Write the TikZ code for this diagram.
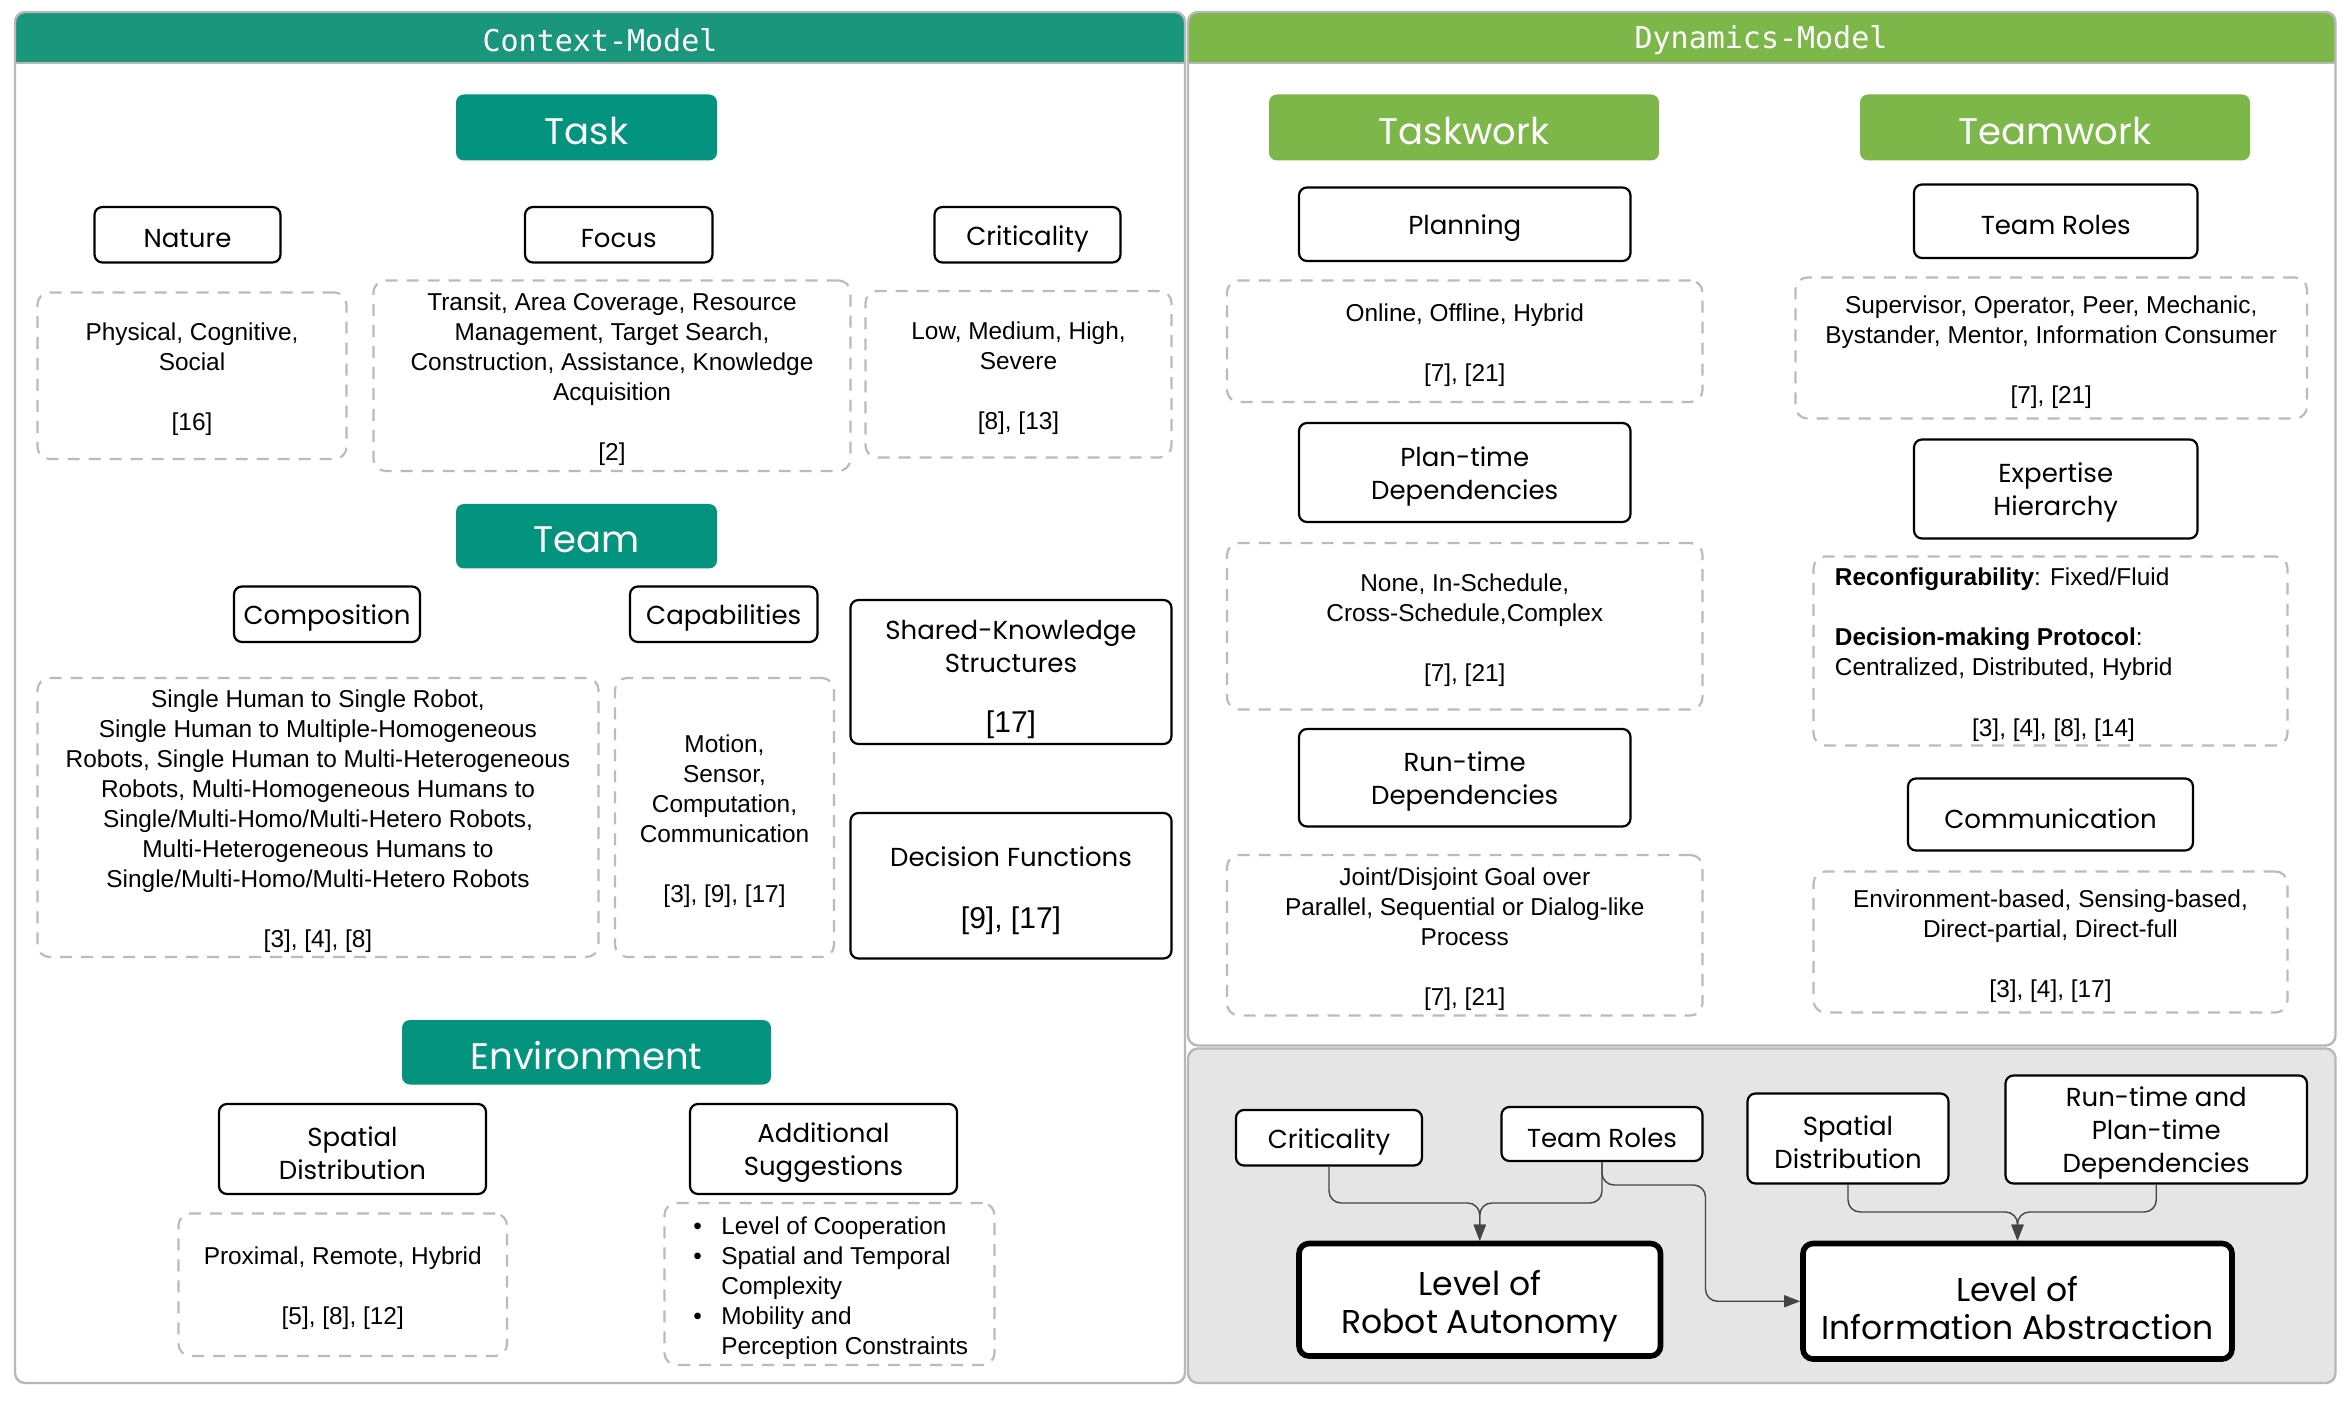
\documentclass[tikz,border=0pt]{standalone}
\usepackage{fontspec}
\setmainfont{Liberation Sans}
\newfontfamily\labfont{Poppins}
\newfontfamily\hdrfont{DejaVu Sans Mono}
\usetikzlibrary{arrows.meta}
\definecolor{cteal}{RGB}{26,150,124}
\definecolor{tealbox}{RGB}{3,147,126}
\definecolor{cgreen}{RGB}{125,182,73}
\definecolor{pgray}{RGB}{184,184,184}
\definecolor{dgray}{RGB}{187,187,187}
\definecolor{panelfill}{RGB}{229,229,229}
\definecolor{conncol}{RGB}{68,68,68}
% box by corners: style, x1, y1, x2, y2, name, text (text set slightly lower, as in the reference)
\newcommand\B[7]{%
  \node[#1, minimum width={(#4-#2)*0.75pt}, minimum height={(#5-#3)*0.75pt}] (#6) at ({(#2+#4)/2},{(#3+#5)/2}) {};%
  \node[#1, draw=none, fill=none] (#6-t) at ({(#2+#4)/2},{(#3+#5)/2+2.5}) {#7};}
\newcommand\BB[7]{%
  \node[#1, minimum width={(#4-#2)*0.75pt}, minimum height={(#5-#3)*0.75pt}] (#6) at ({(#2+#4)/2},{(#3+#5)/2}) {};%
  \node[#1, draw=none, fill=none] (#6-t) at ({(#2+#4)/2},{(#3+#5)/2+4.5}) {#7};}
\tikzset{
  lbl/.style={draw=black, line width=1.1pt, rounded corners=4pt, fill=white, inner sep=0pt,
    align=center, font=\labfont\fontsize{13}{16.5}\selectfont},
  hdrt/.style={fill=tealbox, rounded corners=4pt, inner sep=0pt, text=white,
    font=\labfont\fontsize{18.5}{22}\selectfont},
  hdrg/.style={hdrt, fill=cgreen},
  desc/.style={draw=dgray, line width=1.1pt, dash pattern=on 6pt off 4.5pt, rounded corners=6pt,
    inner sep=0pt, align=center, font=\fontsize{12.2}{15}\selectfont},
  bigbox/.style={draw=black, line width=2.8pt, rounded corners=5pt, fill=white, inner sep=0pt,
    align=center, font=\labfont\fontsize{16.5}{19}\selectfont},
  conn/.style={draw=conncol, line width=0.7pt, rounded corners=6pt,
    -{Triangle[length=8pt,width=6pt]}},
  ptitle/.style={font=\hdrfont\fontsize{15}{18}\selectfont, text=white},
  txt/.style={inner sep=0pt, align=center, font=\fontsize{12.2}{15}\selectfont},
  ltxt/.style={inner sep=0pt, align=center, font=\labfont\fontsize{13}{16.5}\selectfont},
  reftxt/.style={inner sep=0pt, font=\fontsize{15}{18}\selectfont}
}
\begin{document}
\begin{tikzpicture}[x=0.75pt,y=-0.75pt]
\useasboundingbox (0,0) rectangle (1568,934);
\fill[white] (0,0) rectangle (1568,934);

% ---------- panels ----------
\fill[cteal, rounded corners=4pt] (10,8) rectangle (790,42);
\fill[cteal] (10,28) rectangle (790,42);
\draw[pgray, line width=1.2pt] (10,42) -- (790,42);
\draw[pgray, line width=1.2pt, rounded corners=5pt] (10,8) rectangle (790,922);
\node[ptitle] (ctxT) at (400,27) {Context-Model};

\fill[cgreen, rounded corners=4pt] (792,8) rectangle (1557,42);
\fill[cgreen] (792,28) rectangle (1557,42);
\draw[pgray, line width=1.2pt] (792,42) -- (1557,42);
\draw[pgray, line width=1.2pt, rounded corners=5pt] (792,8) rectangle (1557,697);
\node[ptitle] (dynT) at (1174,27) {Dynamics-Model};

\draw[pgray, fill=panelfill, line width=1.2pt, rounded corners=5pt] (792,699) rectangle (1557,922);

% ---------- Context-Model ----------
\B{hdrt}{304}{63}{478}{107}{task}{Task}
\B{lbl}{63}{138}{187}{175}{nature}{Nature}
\B{lbl}{350}{138}{475}{175}{focus}{Focus}
\B{lbl}{623}{138}{747}{175}{crit}{Criticality}
\B{desc}{25}{195}{231}{306}{natureD}{Physical, Cognitive,\\Social\\ \mbox{}\\ \mbox{[16]}}
\B{desc}{249}{187}{567}{314}{focusD}{Transit, Area Coverage, Resource\\Management, Target Search,\\Construction, Assistance, Knowledge\\Acquisition\\ \mbox{}\\ \mbox{[2]}}
\B{desc}{577}{194}{781}{305}{critD}{Low, Medium, High,\\Severe\\ \mbox{}\\ \mbox{[8], [13]}}

\B{hdrt}{304}{336}{478}{379}{team}{Team}
\B{lbl}{156}{391}{280}{428}{comp}{Composition}
\B{lbl}{420}{391}{545}{428}{capa}{Capabilities}
\B{lbl}{567}{400}{781}{496}{skbox}{}
\node[ltxt] (skT) at (674,431) {Shared-Knowledge\\Structures};
\node[reftxt] (skR) at (674,483) {[17]};
\B{lbl}{567}{542}{781}{639}{dfbox}{}
\node[ltxt] (dfT) at (674,571) {Decision Functions};
\node[reftxt] (dfR) at (674,614) {[9], [17]};
\B{desc}{25}{452}{399}{638}{compD}{Single Human to Single Robot,\\Single Human to Multiple-Homogeneous\\Robots, Single Human to Multi-Heterogeneous\\Robots, Multi-Homogeneous Humans to\\Single/Multi-Homo/Multi-Hetero Robots,\\Multi-Heterogeneous Humans to\\Single/Multi-Homo/Multi-Hetero Robots\\ \mbox{}\\ \mbox{[3], [4], [8]}}
\B{desc}{410}{452}{556}{638}{capaD}{Motion,\\Sensor,\\Computation,\\Communication\\ \mbox{}\\ \mbox{[3], [9], [17]}}

\B{hdrt}{268}{680}{514}{723}{env}{Environment}
\B{lbl}{146}{736}{324}{796}{spat}{Spatial\\Distribution}
\B{lbl}{460}{736}{638}{796}{addi}{Additional\\Suggestions}
\B{desc}{119}{809}{338}{904}{spatD}{Proximal, Remote, Hybrid\\ \mbox{}\\ \mbox{[5], [8], [12]}}
\B{desc}{443}{802}{663}{910}{addiD}{}
\node[inner sep=0pt, anchor=west, align=left, font=\fontsize{12.2}{15}\selectfont] (addiT) at (462,859)
  {\makebox[14pt][l]{•}Level of Cooperation\\
   \makebox[14pt][l]{•}Spatial and Temporal\\
   \hspace*{14pt}Complexity\\
   \makebox[14pt][l]{•}Mobility and\\
   \hspace*{14pt}Perception Constraints};

% ---------- Dynamics-Model ----------
\B{hdrg}{846}{63}{1106}{107}{taskw}{Taskwork}
\B{hdrg}{1240}{63}{1500}{107}{teamw}{Teamwork}

\B{lbl}{866}{125}{1087}{174}{plan}{Planning}
\B{desc}{818}{187}{1135}{268}{planD}{Online, Offline, Hybrid\\ \mbox{}\\ \mbox{[7], [21]}}
\B{lbl}{866}{282}{1087}{348}{ptd}{Plan-time\\Dependencies}
\B{desc}{818}{362}{1135}{473}{ptdD}{None, In-Schedule,\\Cross-Schedule,Complex\\ \mbox{}\\ \mbox{[7], [21]}}
\B{lbl}{866}{486}{1087}{551}{rtd}{Run-time\\Dependencies}
\B{desc}{818}{570}{1135}{677}{rtdD}{Joint/Disjoint Goal over\\Parallel, Sequential or Dialog-like\\Process\\ \mbox{}\\ \mbox{[7], [21]}}

\B{lbl}{1276}{123}{1465}{172}{troles}{Team Roles}
\B{desc}{1197}{185}{1538}{279}{trolesD}{Supervisor, Operator, Peer, Mechanic,\\Bystander, Mentor, Information Consumer\\ \mbox{}\\ \mbox{[7], [21]}}
\B{lbl}{1276}{293}{1465}{359}{exph}{Expertise\\Hierarchy}
\B{desc}{1209}{371}{1525}{497}{exphD}{}
\node[inner sep=0pt, anchor=north west, align=left, font=\fontsize{12.2}{15}\selectfont] (exphT) at (1223,378.5)
  {\textbf{Reconfigurability}: Fixed/Fluid\\ \mbox{}\\
   \textbf{Decision-making Protocol}:\\
   Centralized, Distributed, Hybrid};
\node[txt] (exphR) at (1369,487) {[3], [4], [8], [14]};
\B{lbl}{1272}{519}{1462}{567}{comm}{Communication}
\B{desc}{1209}{581}{1525}{675}{commD}{Environment-based, Sensing-based,\\Direct-partial, Direct-full\\ \mbox{}\\ \mbox{[3], [4], [17]}}

% ---------- Outcome panel ----------
\B{lbl}{824}{740}{948}{777}{crit2}{Criticality}
\B{lbl}{1001}{738}{1135}{774}{tr2}{Team Roles}
\B{lbl}{1165}{729}{1299}{789}{sp2}{Spatial\\Distribution}
\B{lbl}{1337}{717}{1538}{789}{rp2}{Run-time and\\Plan-time\\Dependencies}
\BB{bigbox}{866}{829}{1107}{904}{rAuto}{Level of\\Robot Autonomy}
\BB{bigbox}{1202}{829}{1488}{906}{rInfo}{Level of\\Information Abstraction}

\coordinate (m1) at (986.5,802);
\coordinate (m2) at (1345,808);
\coordinate (m3) at (1137,790);
\draw[conn] (crit2.south) |- (m1) -- (rAuto.north);
\draw[conn] (tr2.south) |- (m1) -- (rAuto.north);
\draw[conn] (tr2.south) |- (m3) |- (rInfo.west);
\draw[conn] (sp2.south) |- (m2) -- (rInfo.north);
\draw[conn] (rp2.south) |- (m2) -- (rInfo.north);
\end{tikzpicture}
\end{document}
